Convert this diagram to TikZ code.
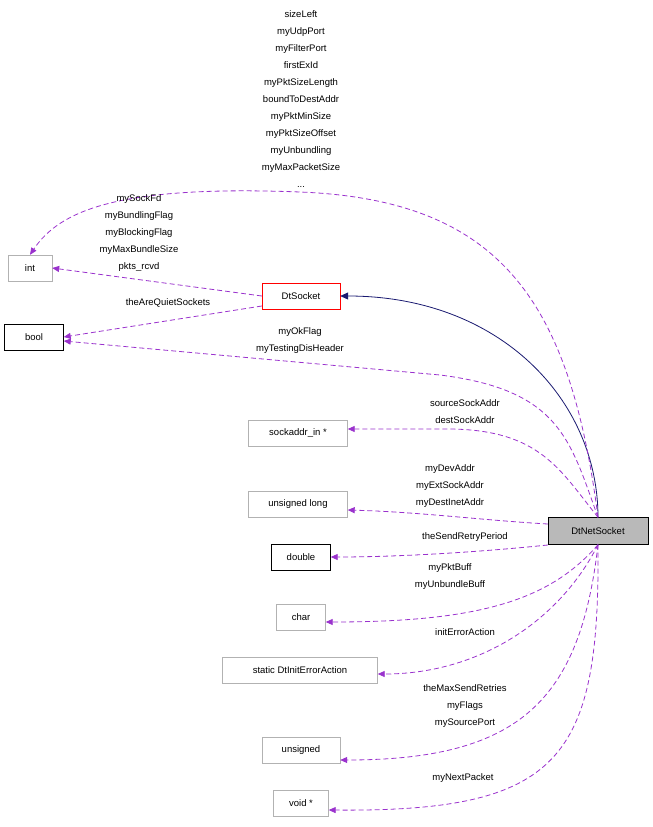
\documentclass[tikz,border=0pt]{standalone}
\usepackage{fontspec}
\setmainfont{Liberation Sans}
\usetikzlibrary{arrows.meta}
\definecolor{edgepurple}{RGB}{154, 50, 205}
\definecolor{edgenavy}{RGB}{25, 25, 112}
\begin{document}
\begin{tikzpicture}[
    x=1pt, y=-1pt,
    every node/.style={font=\fontsize{9.5}{10}\selectfont},
    cls/.style={draw=gray!60, fill=white, minimum height=26pt, inner xsep=6pt, anchor=center},
    known/.style={cls, draw=black},
    uses/.style={-{Triangle[length=7pt,width=6pt,fill=edgepurple]}, line width=0.8pt, dash pattern=on 5pt off 3pt, edgepurple},
    inherit/.style={-{Triangle[length=8pt,width=7pt,fill=edgenavy]}, line width=0.8pt, edgenavy},
    lbl/.style={align=center, inner sep=0pt, font=\fontsize{9.5}{17}\selectfont}
]
    \useasboundingbox (0,0) rectangle (653,827);
    % classes
    \node[cls, minimum width=44pt] (int) at (30,268) {int};
    \node[known, minimum width=59pt] (bool) at (34,337) {bool};
    \node[cls, draw=red, minimum width=78pt] (dtsocket) at (301,296) {DtSocket};
    \node[cls, minimum width=99pt] (sockaddr) at (298,433) {sockaddr\_in *};
    \node[cls, minimum width=99pt] (ulong) at (298,504) {unsigned long};
    \node[known, minimum width=59pt] (double) at (301,557) {double};
    \node[cls, minimum width=49pt] (char) at (301,617) {char};
    \node[cls, minimum width=155pt] (erract) at (300,670) {static DtInitErrorAction};
    \node[cls, minimum width=78pt] (unsigned) at (301,750) {unsigned};
    \node[cls, minimum width=55pt] (voidp) at (301,803) {void *};
    \node[known, fill=gray!55, minimum width=100pt, minimum height=27pt] (netsocket) at (598,531) {DtNetSocket};

    % connectors
    \draw[inherit] (netsocket.north) .. controls (598,400) and (500,296) .. (dtsocket.east);
    \draw[uses] (netsocket.north) .. controls (570,300) and (500,200) .. (300,192)
        .. controls (120,185) and (60,210) .. (int.north);
    \draw[uses] (dtsocket.west) -- (int.east);
    \draw[uses] (dtsocket.west |- 0,306) -- (bool.east);
    \draw[uses] (netsocket.north) .. controls (570,440) and (560,390) .. (440,375)
        -- (bool.east |- 0,341);
    \draw[uses] (netsocket.north) .. controls (560,470) and (540,430) .. (450,429) -- (sockaddr.east |- 0,429);
    \draw[uses] (netsocket.west |- 0,524) .. controls (480,520) and (420,512) .. (ulong.east |- 0,510);
    \draw[uses] (netsocket.west |- 0,545) .. controls (480,552) and (400,557) .. (double.east);
    \draw[uses] (netsocket.south) .. controls (550,600) and (480,622) .. (char.east |- 0,622);
    \draw[uses] (netsocket.south) .. controls (560,620) and (480,674) .. (erract.east |- 0,674);
    \draw[uses] (netsocket.south) .. controls (580,700) and (520,760) .. (unsigned.east |- 0,760);
    \draw[uses] (netsocket.south) .. controls (600,760) and (560,812) .. (voidp.east |- 0,810);

    % labels
    \node[lbl] (intlbl) at (301,99) {sizeLeft\\myUdpPort\\myFilterPort\\firstExId\\myPktSizeLength\\boundToDestAddr\\myPktMinSize\\myPktSizeOffset\\myUnbundling\\myMaxPacketSize\\...};
    \node[lbl] (sockintlbl) at (139,233) {mySockFd\\myBundlingFlag\\myBlockingFlag\\myMaxBundleSize\\pkts\_rcvd};
    \node[lbl] (sockboollbl) at (168,303) {theAreQuietSockets};
    \node[lbl] (boollbl) at (300,341) {myOkFlag\\myTestingDisHeader};
    \node[lbl] (addrlbl) at (465,412) {sourceSockAddr\\destSockAddr};
    \node[lbl] (ulonglbl) at (450,486) {myDevAddr\\myExtSockAddr\\myDestInetAddr};
    \node[lbl] (doublelbl) at (465,537) {theSendRetryPeriod};
    \node[lbl] (charlbl) at (450,577) {myPktBuff\\myUnbundleBuff};
    \node[lbl] (errlbl) at (465,632) {initErrorAction};
    \node[lbl] (unsignedlbl) at (465,706) {theMaxSendRetries\\myFlags\\mySourcePort};
    \node[lbl] (voidlbl) at (463,778) {myNextPacket};
\end{tikzpicture}
\end{document}
